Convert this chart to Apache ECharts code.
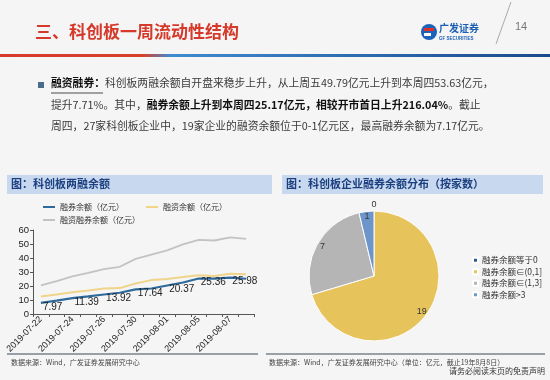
<!DOCTYPE html>
<html><head><meta charset="utf-8">
<script src="https://cdn.jsdelivr.net/npm/echarts@6/dist/echarts.min.js"></script>
<style>html,body{margin:0;padding:0;background:#f5f5f5}#c{width:550px;height:380px}</style>
</head><body><div id="c"></div>
<script>
// ---- data ----
const dates = ['2019-07-22','2019-07-23','2019-07-24','2019-07-25','2019-07-26','2019-07-29','2019-07-30','2019-07-31','2019-08-01','2019-08-02','2019-08-05','2019-08-06','2019-08-07','2019-08-08'];
const rongquan = [7.97, 9.6, 11.39, 12.6, 13.92, 15.2, 17.64, 18.2, 20.37, 22.5, 25.36, 25.3, 25.98, 25.17];
const rongzi = [12.5, 14.0, 15.5, 16.8, 18.2, 18.5, 21.8, 24.2, 25.0, 26.5, 27.6, 27.2, 28.8, 28.46];
const total = [20.5, 23.5, 26.9, 29.4, 32.1, 33.7, 39.4, 42.4, 45.4, 49.79, 53.0, 52.5, 54.8, 53.63];
const labeledIdx = [0, 2, 4, 6, 8, 10, 12];
const yMin = 0, yMax = 60, yStep = 10;
const seriesNames = ['融券余额（亿元）', '融资余额（亿元）', '融资融券余额（亿元）'];
const pieNames = ['融券余额等于0', '融券余额∈(0,1]', '融券余额∈(1,3]', '融券余额>3'];
const pieValues = [0, 19, 7, 1];

const CJK = '"Noto Sans CJK SC", "Noto Sans", sans-serif';
const LAT = '"Liberation Sans", Arial, sans-serif';
const pieColors = ['#2c5c8f', '#e7c35c', '#b5b5b5', '#6e95c9'];

const chart = echarts.init(document.getElementById('c'), null, {renderer: 'canvas'});

const option = {
  backgroundColor: '#f5f5f5',
  animation: false,
  textStyle: {fontFamily: CJK},
  grid: {left: 33, right: 296, top: 230, bottom: 66, containLabel: false},
  xAxis: {
    type: 'category', data: dates, boundaryGap: true,
    axisLine: {lineStyle: {color: '#555', width: 1}},
    axisTick: {show: true, interval: 0, length: 3, lineStyle: {color: '#555'}},
    axisLabel: {interval: 1, rotate: 45, fontSize: 9, color: '#222', fontFamily: LAT, margin: 4}
  },
  yAxis: {
    type: 'value', min: yMin, max: yMax, interval: yStep,
    axisLine: {show: true, lineStyle: {color: '#555', width: 1}},
    axisTick: {show: true, length: 3, lineStyle: {color: '#555'}},
    splitLine: {show: false},
    axisLabel: {fontSize: 9.5, color: '#222', fontFamily: LAT, margin: 4}
  },
  legend: [
    {data: [seriesNames[0], seriesNames[1]], left: 38, top: 198, icon: 'rect', itemWidth: 12, itemHeight: 2, itemGap: 22,
     textStyle: {fontSize: 8, color: '#333', fontFamily: CJK}, selectedMode: false},
    {data: [seriesNames[2]], left: 38, top: 211, icon: 'rect', itemWidth: 12, itemHeight: 2,
     textStyle: {fontSize: 8, color: '#333', fontFamily: CJK}, selectedMode: false},
    {data: pieNames, orient: 'vertical', left: 467, top: 251, icon: 'rect', itemWidth: 5, itemHeight: 5, itemGap: 3,
     textStyle: {fontSize: 8.5, color: '#333', fontFamily: CJK, padding: [0, 0, 0, -1]}, selectedMode: false}
  ],
  series: [
    {name: seriesNames[2], type: 'line', data: total, symbol: 'none', z: 2,
     lineStyle: {color: '#c3c3c3', width: 1.8}, itemStyle: {color: '#c3c3c3'}},
    {name: seriesNames[1], type: 'line', data: rongzi, symbol: 'none', z: 3,
     lineStyle: {color: '#efd48a', width: 2}, itemStyle: {color: '#efd48a'}},
    {name: seriesNames[0], type: 'line', symbol: 'circle', symbolSize: 0.1, showSymbol: true, z: 4,
     data: rongquan.map((v, i) => ({value: v, label: {show: labeledIdx.indexOf(i) >= 0}})),
     lineStyle: {color: '#2e6a9c', width: 2.2}, itemStyle: {color: '#2e6a9c'},
     label: {show: false, position: 'right', distance: 2, offset: [0, 4], fontSize: 10, color: '#222', fontFamily: LAT,
             formatter: p => p.value.toFixed(2)}},
    {name: 'pie', type: 'pie', center: [374, 276], radius: [0, 65], startAngle: 90, clockwise: true,
     avoidLabelOverlap: false, label: {show: false}, labelLine: {show: false},
     itemStyle: {borderColor: '#ffffff', borderWidth: 1},
     data: pieNames.map((n, i) => ({name: n, value: pieValues[i], itemStyle: {color: pieColors[i]}}))},
    {name: 'pieLabels', type: 'pie', center: [374, 276], radius: [48, 65], startAngle: 90, clockwise: true,
     silent: true, avoidLabelOverlap: false, legendHoverLink: false, z: 5,
     itemStyle: {color: 'rgba(0,0,0,0)'},
     label: {show: true, position: 'inside', fontSize: 9, color: '#333', fontFamily: LAT, formatter: '{c}'},
     labelLine: {show: false},
     data: pieNames.map((n, i) => ({name: n, value: pieValues[i],
       label: pieValues[i] === 0 ? {offset: [0, -12]} : {}}))}
  ],
  graphic: [
    // title
    {type: 'text', left: 35, top: 23, style: {text: '三、科创板一周流动性结构', fill: '#d6392a', font: 'bold 17px ' + CJK}},
    // gradient rule
    {type: 'rect', shape: {x: 0, y: 54, width: 550, height: 3},
     style: {fill: new echarts.graphic.LinearGradient(0, 0, 1, 0, [
       {offset: 0, color: '#d63a2c'}, {offset: 0.26, color: '#d8402c'},
       {offset: 0.31, color: '#3f8ad0'}, {offset: 1, color: '#1b4a8c'}])}},
    // logo
    {type: 'circle', shape: {cx: 429, cy: 32, r: 8}, style: {fill: '#1a63b8'}},
    {type: 'rect', shape: {x: 424, y: 28, width: 10, height: 3}, style: {fill: '#e0302a'}},
    {type: 'rect', shape: {x: 424, y: 33, width: 7, height: 3}, style: {fill: '#ffffff'}},
    {type: 'text', left: 439, top: 23, style: {text: '广发证券', fill: '#1a5fb4', font: 'bold 10px ' + CJK}},
    {type: 'text', left: 439, top: 36, style: {text: 'GF SECURITIES', fill: '#1a5fb4', font: 'bold 4.5px ' + LAT}},
    {type: 'line', shape: {x1: 496, y1: 44, x2: 511, y2: 2}, style: {stroke: '#aaaaaa', lineWidth: 1}},
    {type: 'text', left: 515, top: 21, style: {text: '14', fill: '#777', font: '11px ' + LAT}},
    // paragraph
    {type: 'rect', shape: {x: 38, y: 82, width: 6, height: 6}, style: {fill: '#4a6c8c'}},
    {type: 'text', left: 51, top: 78, style: {
      text: '{b|融资融券：}{n|科创板两融余额自开盘来稳步上升，从上周五49.79亿元上升到本周四53.63亿元，}',
      rich: {b: {font: 'bold 10.8px ' + CJK, fill: '#111'}, n: {font: '10.8px ' + CJK, fill: '#3a3a3a'}}}},
    {type: 'line', shape: {x1: 51, y1: 93, x2: 103, y2: 93}, style: {stroke: '#222', lineWidth: 0.8}},
    {type: 'text', left: 51, top: 100, style: {
      text: '{n|提升7.71%。其中，}{b|融券余额上升到本周四25.17亿元，相较开市首日上升216.04%}{n|。截止}',
      rich: {b: {font: 'bold 10.8px ' + CJK, fill: '#111'}, n: {font: '10.8px ' + CJK, fill: '#3a3a3a'}}}},
    {type: 'text', left: 51, top: 121, style: {
      text: '{n|周四，27家科创板企业中，19家企业的融资余额位于0-1亿元区，最高融券余额为7.17亿元。}',
      rich: {n: {font: '10.8px ' + CJK, fill: '#3a3a3a'}}}},
    // panel headers
    {type: 'rect', shape: {x: 7, y: 175, width: 265, height: 19}, style: {fill: '#c8d9ef'}},
    {type: 'text', left: 11, top: 178, style: {text: '图：科创板两融余额', fill: '#1c3f80', font: 'bold 11px ' + CJK}},
    {type: 'rect', shape: {x: 282, y: 175, width: 261, height: 19}, style: {fill: '#c8d9ef'}},
    {type: 'text', left: 286, top: 178, style: {text: '图：科创板企业融券余额分布（按家数）', fill: '#1c3f80', font: 'bold 11px ' + CJK}},
    // bottom rules & sources
    {type: 'line', shape: {x1: 7, y1: 354, x2: 258, y2: 354}, style: {stroke: '#3d4b5a', lineWidth: 1.2}},
    {type: 'line', shape: {x1: 266, y1: 354, x2: 545, y2: 354}, style: {stroke: '#3d4b5a', lineWidth: 1.2}},
    {type: 'text', left: 11, top: 359, style: {text: '数据来源：Wind，广发证券发展研究中心', fill: '#444', font: '7px ' + CJK}},
    {type: 'text', left: 269, top: 359, style: {text: '数据来源：Wind，广发证券发展研究中心（单位：亿元，截止19年8月8日）', fill: '#444', font: '7px ' + CJK}},
    {type: 'text', right: 5, top: 367, style: {text: '请务必阅读末页的免责声明', fill: '#333', font: '8px ' + CJK}}
  ]
};
chart.setOption(option);
</script>
</body></html>
